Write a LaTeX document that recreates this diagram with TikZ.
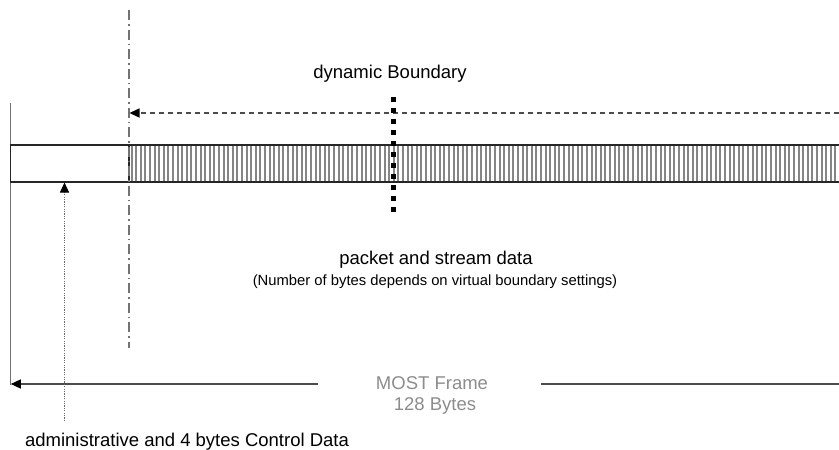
\documentclass[tikz,border=0pt]{standalone}
\usepackage{fontspec}
\setmainfont{Liberation Sans}
\usetikzlibrary{arrows.meta}
\begin{document}
\begin{tikzpicture}[x=1pt,y=-1pt,
  lbl/.style={font=\fontsize{18.5}{21}\selectfont, inner sep=0pt, anchor=base},
  smalllbl/.style={font=\fontsize{14.8}{17}\selectfont, inner sep=0pt, anchor=base},
  greylbl/.style={lbl, text=black!45},
  tip/.style={-{Triangle[length=10pt,width=9pt,color=black]}},
  hatchline/.style={draw=black!48, line width=2pt},
  framebox/.style={draw=black!85, line width=1.1pt},
  dashdot/.style={draw=black!55, line width=1.4pt, dash pattern=on 10pt off 4pt on 1.5pt off 4pt},
  boundary/.style={draw=black, line width=5pt, dash pattern=on 5pt off 6pt},
  vbound/.style={draw=black!70, line width=1.3pt, dash pattern=on 5pt off 4pt},
  admin/.style={draw=black!60, line width=1pt, dash pattern=on 1.2pt off 1.2pt},
  span/.style={draw=black!70, line width=1.4pt}]
\useasboundingbox (0,0) rectangle (839,450);
\clip (0,0) rectangle (839,450);

% left border of the frame
\draw[draw=black!55, line width=1pt] (10.5,103) -- (10.5,385);

% hatched data region of the frame
\foreach \i in {0,...,154} {
  \draw[hatchline] ({131.6+\i*4.6},145) -- ++(0,37);
}
% frame outline and the split between control and data part
\draw[framebox] (10.5,145) rectangle (850,182);
\draw[framebox] (129,145) -- (129,182);

% fixed boundary (dash-dot)
\coordinate (fixtop) at (129,10);
\coordinate (fixbot) at (129,348);
\draw[dashdot] (fixtop) -- (fixbot);

% virtual boundary range (dashed arrow)
\coordinate (vbR) at (839,113);
\coordinate (vbL) at (129.5,113);
\draw[vbound, tip] (vbR) -- (vbL);

% dynamic boundary
\node[lbl] (dyn) at (390,78) {dynamic Boundary};
\coordinate (dyntop) at (393,97);
\coordinate (dynbot) at (393,216);
\draw[boundary] (dyntop) -- (dynbot);

% data labels
\node[lbl] (pkt) at (436,264) {packet and stream data};
\node[smalllbl] (pktnote) at (435,285) {(Number of bytes depends on virtual boundary settings)};

% frame length
\node[greylbl] (most) at (432,389) {MOST Frame};
\node[greylbl] (bytes) at (435,410) {128 Bytes};
\coordinate (spanL) at (10.8,384);
\coordinate (spanLm) at (318,384);
\coordinate (spanRm) at (541,384);
\coordinate (spanR) at (845,384);
\draw[span, tip] (spanLm) -- (spanL);
\draw[span] (spanRm) -- (spanR);

% control data pointer
\node[lbl] (adm) at (187,446) {administrative and 4 bytes Control Data};
\coordinate (admbot) at (64.5,421);
\coordinate (admtop) at (64.5,182.5);
\draw[admin, tip] (admbot) -- (admtop);
\end{tikzpicture}
\end{document}
